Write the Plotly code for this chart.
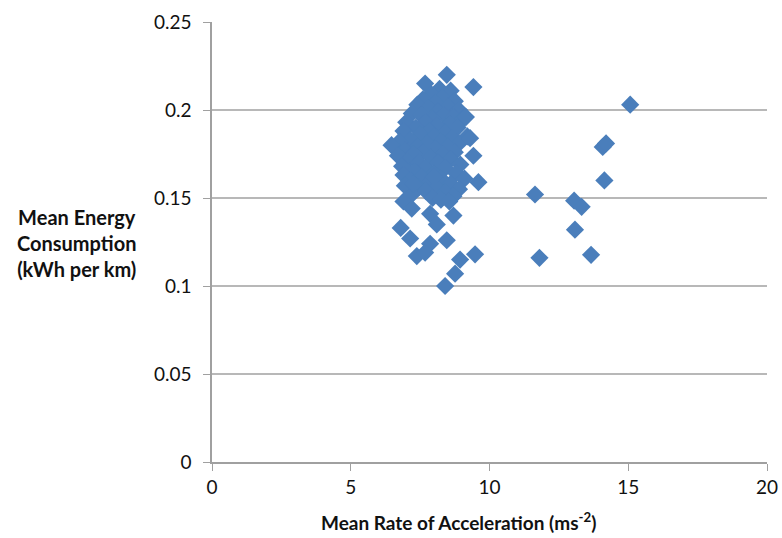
import plotly.graph_objects as go

# Main cluster + low outliers
x_main = [8.46, 7.68, 8.2, 8.6, 7.9, 8.3, 7.6, 8.75, 8.05, 7.4,
          8.5, 7.8, 8.9, 8.15, 7.2, 7.55, 8.35, 8.7, 7.95, 9.05,
          7.0, 7.7, 8.55, 8.1, 8.85, 7.35, 6.9, 7.85, 8.4, 9.2,
          7.5, 8.0, 8.65, 7.15, 8.25, 6.75, 7.75, 8.9, 6.47, 7.4,
          8.5, 8.05, 6.95, 7.6, 8.75, 7.25, 8.3, 6.7, 9.42, 7.9,
          8.6, 7.05, 7.45, 8.15, 8.95, 6.85, 7.7, 8.4, 7.3, 8.0,
          8.8, 6.9, 7.55, 8.25, 9.1, 7.15, 7.85, 8.6, 9.6, 6.95,
          7.45, 8.1, 8.9, 7.7, 8.4, 7.2, 8.7, 7.95, 8.25, 8.55,
          6.9, 7.2, 7.86, 8.1, 8.7, 6.8, 7.14, 7.86, 8.46, 7.38,
          7.68, 8.94, 9.48, 8.76, 8.4, 9.42, 9.3, 9.15, 7.25, 8.0]
y_main = [0.220, 0.215, 0.212, 0.211, 0.209, 0.207, 0.206, 0.205, 0.204, 0.203,
          0.202, 0.201, 0.200, 0.199, 0.198, 0.197, 0.197, 0.196, 0.195, 0.195,
          0.193, 0.193, 0.192, 0.191, 0.190, 0.190, 0.188, 0.188, 0.187, 0.185,
          0.186, 0.185, 0.184, 0.183, 0.182, 0.182, 0.181, 0.181, 0.180, 0.179,
          0.179, 0.178, 0.177, 0.176, 0.176, 0.175, 0.175, 0.174, 0.174, 0.173,
          0.172, 0.171, 0.170, 0.170, 0.169, 0.168, 0.167, 0.167, 0.165, 0.164,
          0.164, 0.163, 0.162, 0.161, 0.161, 0.160, 0.159, 0.158, 0.159, 0.157,
          0.156, 0.156, 0.155, 0.154, 0.153, 0.152, 0.151, 0.150, 0.149, 0.148,
          0.148, 0.144, 0.141, 0.135, 0.140, 0.133, 0.127, 0.124, 0.126, 0.117,
          0.119, 0.115, 0.118, 0.107, 0.100, 0.213, 0.184, 0.196, 0.158, 0.162]

# Right-hand outliers
x_right = [15.07, 14.08, 14.2, 14.14, 11.64, 13.05, 13.32, 13.08, 11.8, 13.66]
y_right = [0.203, 0.179, 0.181, 0.160, 0.152, 0.1485, 0.145, 0.132, 0.116, 0.1177]

x_vals = x_main + x_right
y_vals = y_main + y_right

x_ticks = [0, 5, 10, 15, 20]
y_ticks = [0, 0.05, 0.1, 0.15, 0.2, 0.25]
y_tick_text = ["0", "0.05", "0.1", "0.15", "0.2", "0.25"]

FONT = "Lato, 'Open Sans', sans-serif"

fig = go.Figure()
fig.add_trace(go.Scatter(
    x=x_vals, y=y_vals, mode="markers",
    marker=dict(symbol="diamond", size=14, color="#4A7EBB",
                line=dict(width=0)),
    hoverinfo="skip", showlegend=False,
))

fig.update_layout(
    width=782, height=538,
    margin=dict(l=212, r=15, t=22, b=76, autoexpand=False),
    paper_bgcolor="white", plot_bgcolor="white",
    font=dict(family=FONT, size=19, color="#111"),
    xaxis=dict(range=[0, 20], tickvals=x_ticks, showgrid=False,
               showline=True, linecolor="#A0A0A0", linewidth=1.5,
               ticks="outside", ticklen=7, tickcolor="#A0A0A0",
               zeroline=False, fixedrange=True, automargin=False,
               ticklabeloverflow="allow"),
    yaxis=dict(range=[0, 0.25], tickvals=y_ticks, ticktext=y_tick_text,
               showgrid=True, gridcolor="#B8B8B8", gridwidth=1.5,
               showline=True, linecolor="#A0A0A0", linewidth=1.5,
               ticks="outside", ticklen=7, tickcolor="#A0A0A0",
               ticklabelstandoff=8,
               zeroline=False, fixedrange=True, automargin=False),
    annotations=[
        dict(text="<b>Mean Energy<br>Consumption<br>(kWh per km)</b>",
             xref="paper", yref="paper", x=-0.245, y=0.497,
             xanchor="center", yanchor="middle", showarrow=False,
             align="center", font=dict(size=20, family=FONT, color="#111")),
        dict(text="<b>Mean Rate of Acceleration (ms<sup>-2</sup>)</b>",
             xref="paper", yref="paper", x=0.445, y=-0.135,
             xanchor="center", yanchor="middle", showarrow=False,
             font=dict(size=19, family=FONT, color="#111")),
    ],
)

fig.write_html("out.html")
